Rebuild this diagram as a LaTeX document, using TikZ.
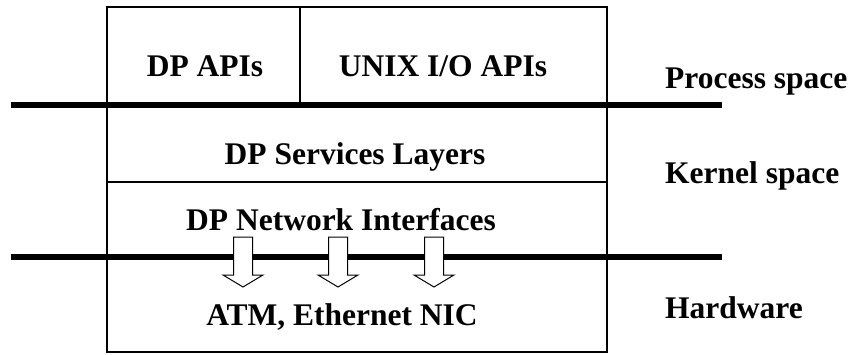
\documentclass[tikz,border=0pt]{standalone}
\usepackage{fontspec}
\setmainfont{Liberation Serif}
\usetikzlibrary{calc}
\begin{document}
\begin{tikzpicture}[x=1pt,y=-1pt,
  lbl/.style={inner sep=0pt,anchor=base,font=\fontsize{31.5}{36}\selectfont\bfseries},
  side/.style={inner sep=0pt,anchor=base west,font=\fontsize{31.5}{36}\selectfont\bfseries},
  thinline/.style={line width=1.2pt,black},
  boundary/.style={line width=6pt,black},
  layerline/.style={line width=2.5pt,black},
  hollowarrow/.style={draw=black,fill=white,line width=1pt,line join=miter}]
\useasboundingbox[fill=white] (0,0) rectangle (853,354);
% outer box
\draw[thinline] (107,7) rectangle (607,352);
\draw[thinline] (300,7) -- (300,105);
\draw[layerline] (107,182) -- (607,182);
% boundaries
\coordinate (b1w) at (11,105);
\coordinate (b1e) at (722,105);
\coordinate (b2w) at (11,257);
\coordinate (b2e) at (722,257);
\draw[boundary] (b1w) -- (b1e);
\draw[boundary] (b2w) -- (b2e);
% texts
\node[lbl] (dpapi) at (205,76) {DP APIs};
\node[lbl] (unix) at (443,76) {UNIX I/O APIs};
\node[lbl] (svc) at (355,164) {DP Services Layers};
\node[lbl] (netif) at (341,230) {DP Network Interfaces};
\node[lbl] (nic) at (342,325) {ATM, Ethernet NIC};
\node[side] (proc) at (665,88) {Process space};
\node[side] (kern) at (665,183) {Kernel space};
\node[side] (hw) at (665,318) {Hardware};
% hollow arrows
\foreach \cx/\nm in {243/a1,338/a2,434/a3}{
  \coordinate (\nm) at (\cx,237);
  \draw[hollowarrow] ($(\nm)+(-9.5,0)$) -- ($(\nm)+(-9.5,38)$) -- ($(\nm)+(-20,38)$) -- ($(\nm)+(0,50)$)
     -- ($(\nm)+(20,38)$) -- ($(\nm)+(9.5,38)$) -- ($(\nm)+(9.5,0)$) -- cycle;
}
\end{tikzpicture}
\end{document}
